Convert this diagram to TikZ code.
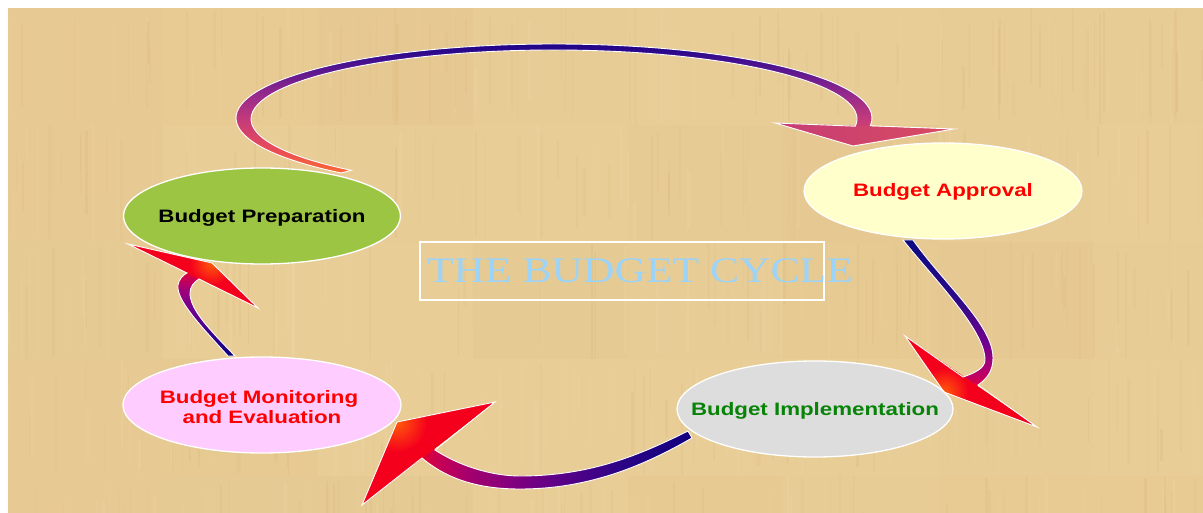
\documentclass[tikz,border=0pt]{standalone}
\usepackage{fontspec}
\usepackage{graphicx}
\usetikzlibrary{shapes.geometric}
\newfontfamily\lblfont{Liberation Sans}
\newfontfamily\titlefont{Liberation Serif}

% paper and texture
\definecolor{paper}{HTML}{E8CC95}
\definecolor{streakdark}{HTML}{CDA86A}
\definecolor{streaklight}{HTML}{F6E3B8}
% bubbles and texts
\definecolor{prepgreen}{HTML}{9DC544}
\definecolor{appryellow}{HTML}{FFFFCC}
\definecolor{implgrey}{HTML}{DDDDDD}
\definecolor{monpink}{HTML}{FFCCFF}
\definecolor{labelred}{HTML}{FF0000}
\definecolor{labelgreen}{HTML}{078307}
\definecolor{titleblue}{HTML}{9CD3F8}
% arrow heads
\definecolor{headred}{HTML}{F5001C}
\definecolor{tiporange}{HTML}{FF5A0A}
\definecolor{headAl}{HTML}{C63D74}
\definecolor{headAr}{HTML}{D84B62}
% shaft colour stops
\definecolor{sA0}{HTML}{FA6A32}\definecolor{sA1}{HTML}{E84A58}\definecolor{sA2}{HTML}{C83C78}
\definecolor{sA3}{HTML}{982A8C}\definecolor{sA4}{HTML}{561690}\definecolor{sA5}{HTML}{24068A}
\definecolor{sA6}{HTML}{100080}
\definecolor{sB0}{HTML}{E0003C}\definecolor{sB1}{HTML}{B8006A}\definecolor{sB2}{HTML}{74008E}
\definecolor{sB3}{HTML}{2E0A88}\definecolor{sB4}{HTML}{0C0A80}
\definecolor{sC0}{HTML}{E4002E}\definecolor{sC1}{HTML}{C40056}\definecolor{sC2}{HTML}{A2006E}
\definecolor{sC3}{HTML}{84007E}\definecolor{sC4}{HTML}{5A0088}\definecolor{sC5}{HTML}{2C0486}
\definecolor{sC6}{HTML}{10007E}
\definecolor{sD0}{HTML}{0C007E}\definecolor{sD1}{HTML}{34008A}\definecolor{sD2}{HTML}{6E0090}
\definecolor{sD3}{HTML}{A0007A}\definecolor{sD4}{HTML}{CC0050}\definecolor{sD5}{HTML}{E8002E}

\pgfdeclareverticalshading{shaftA}{100bp}{color(0bp)=(sA0); color(25bp)=(sA0); color(33.9bp)=(sA1); color(43.6bp)=(sA2); color(53.3bp)=(sA3); color(63bp)=(sA4); color(70.7bp)=(sA5); color(75bp)=(sA6); color(100bp)=(sA6)}
\pgfdeclareverticalshading{shaftB}{100bp}{color(0bp)=(sB0); color(25bp)=(sB0); color(30.4bp)=(sB1); color(39.5bp)=(sB2); color(54.7bp)=(sB3); color(75bp)=(sB4); color(100bp)=(sB4)}
\pgfdeclarehorizontalshading{shaftC}{100bp}{color(0bp)=(sC0); color(25bp)=(sC0); color(28.8bp)=(sC1); color(34.3bp)=(sC2); color(41.6bp)=(sC3); color(50.8bp)=(sC4); color(61.8bp)=(sC5); color(75bp)=(sC6); color(100bp)=(sC6)}
\pgfdeclareverticalshading{shaftD}{100bp}{color(0bp)=(sD0); color(25bp)=(sD0); color(37.1bp)=(sD1); color(51.6bp)=(sD2); color(63.1bp)=(sD3); color(70bp)=(sD4); color(75bp)=(sD5); color(100bp)=(sD5)}

\begin{document}
\begin{tikzpicture}[x=1pt,y=-1pt,
  bubble/.style={ellipse, draw=white, line width=1.3pt, minimum width=277pt,
    minimum height=96pt, inner sep=0pt},
  lbl/.style={font=\lblfont\bfseries\fontsize{18}{20}\selectfont, anchor=base, inner sep=0pt},
  arrowrim/.style={draw=white, line width=0.9pt, line join=miter},
  titlebox/.style={draw=white, line width=1.2pt, minimum width=404pt, minimum height=58pt, inner sep=0pt},
  titletext/.style={text=titleblue, font=\titlefont\fontsize{36}{40}\selectfont, anchor=base, inner sep=0pt}]

\useasboundingbox (0,0) rectangle (1203,513);
\fill[white] (0,0) rectangle (1203,513);
\fill[paper] (8,8) rectangle (1203,513);

% papyrus texture: faintly tinted tiles and fine vertical fibres
\begin{scope}
  \clip (8,8) rectangle (1203,513);
  \pgfmathsetseed{1207}
  \foreach \trow in {0,...,4}{
    \foreach \tcol in {0,...,7}{
      \pgfmathsetmacro\to{0.02+0.05*rnd}
      \pgfmathtruncatemacro\tk{rnd>0.5 ? 1 : 0}
      \ifnum\tk=1 \def\tc{streakdark}\else\def\tc{streaklight}\fi
      \fill[\tc, opacity=\to] ({8+155*\tcol},{8+117*\trow}) rectangle ++(155,117);
    }
    \foreach \k in {1,...,110}{
      \pgfmathsetmacro\sx{8+1195*rnd}
      \pgfmathsetmacro\sw{0.8+2.2*rnd}
      \pgfmathsetmacro\sh{30+87*rnd}
      \pgfmathsetmacro\sy{8+117*\trow+(117-\sh)*rnd}
      \pgfmathsetmacro\so{0.05+0.10*rnd}
      \pgfmathtruncatemacro\sk{rnd>0.45 ? 1 : 0}
      \ifnum\sk=1 \def\sc{streakdark}\else\def\sc{streaklight}\fi
      \fill[\sc, opacity=\so] (\sx,\sy) rectangle ++(\sw,\sh);
    }
  }
\end{scope}

% ---- arrow: preparation -> approval (over the top)
\coordinate (a1bl) at (775,123);
\coordinate (a1br) at (954,129);
\coordinate (a1tip) at (853,146);
\shade[shading=shaftA] ([shift={(554,118)}]132:318 and 74)
  arc[start angle=132, end angle=368, x radius=318, y radius=74]
  -- ([shift={(554,119)}]368:303 and 69)
  arc[start angle=368, end angle=132, x radius=303, y radius=69] -- cycle;
\shade[left color=headAl, right color=headAr] (a1bl) -- (a1br) -- (a1tip) -- cycle;
\draw[arrowrim] ([shift={(554,118)}]132:318 and 74)
  arc[start angle=132, end angle=366, x radius=318, y radius=74]
  -- (a1br) -- (a1tip) -- (a1bl)
  -- ([shift={(554,119)}]366:303 and 69)
  arc[start angle=366, end angle=132, x radius=303, y radius=69] -- cycle;

% ---- arrow: approval -> implementation
\coordinate (a2tl) at (903,240);
\coordinate (a2tr) at (913,240);
\coordinate (a2ja) at (963,377);
\coordinate (a2jb) at (978,385);
\coordinate (a2b1) at (905,336);
\coordinate (a2tip) at (944,392);
\coordinate (a2b2) at (1037,427);
\shade[shading=shaftB] (a2tl) .. controls (935,280) and (985,330) .. (985,360)
  .. controls (985,368) and (975,373) .. (a2ja) -- (960.7,380.3) -- (975.7,388.3) -- (a2jb)
  .. controls (988,378) and (993,370) .. (993,358)
  .. controls (993,325) and (945,285) .. (a2tr) -- cycle;
\begin{scope}
  \clip (a2b1) -- (a2b2) -- (a2tip) -- cycle;
  \fill[headred] (a2b1) -- (a2b2) -- (a2tip) -- cycle;
  \shade[inner color=tiporange, outer color=headred] (a2tip) circle (24pt);
\end{scope}
\draw[arrowrim] (a2tl) .. controls (935,280) and (985,330) .. (985,360)
  .. controls (985,368) and (975,373) .. (a2ja) -- (a2b1) -- (a2tip) -- (a2b2) -- (a2jb)
  .. controls (988,378) and (993,370) .. (993,358)
  .. controls (993,325) and (945,285) .. (a2tr) -- cycle;

% ---- arrow: implementation -> monitoring
\coordinate (a3tu) at (688,431);
\coordinate (a3tl) at (692,438);
\coordinate (a3p) at (435,450);
\coordinate (a3q) at (422,458);
\coordinate (a3b1) at (495,402);
\coordinate (a3tip) at (397,422);
\coordinate (a3b2) at (362,505);
\shade[shading=shaftC] (a3tu) .. controls (640,455) and (590,476) .. (520,476)
  .. controls (490,476) and (458,465) .. (a3p) -- (432.6,446.8) -- (419.6,454.8) -- (a3q)
  .. controls (448,480) and (480,489) .. (520,489)
  .. controls (590,489) and (645,465) .. (a3tl) -- cycle;
\begin{scope}
  \clip (a3b1) -- (a3tip) -- (a3b2) -- cycle;
  \fill[headred] (a3b1) -- (a3tip) -- (a3b2) -- cycle;
  \shade[inner color=tiporange, outer color=headred] (a3tip) circle (30pt);
\end{scope}
\draw[arrowrim] (a3tu) .. controls (640,455) and (590,476) .. (520,476)
  .. controls (490,476) and (458,465) .. (a3p) -- (a3b1) -- (a3tip) -- (a3b2) -- (a3q)
  .. controls (448,480) and (480,489) .. (520,489)
  .. controls (590,489) and (645,465) .. (a3tl) -- cycle;

% ---- arrow: monitoring -> preparation
\coordinate (a4tl) at (228,356);
\coordinate (a4tr) at (235,356);
\coordinate (a4j1) at (187,273);
\coordinate (a4j2) at (199,279);
\coordinate (a4b1) at (128,244);
\coordinate (a4tip) at (212,263);
\coordinate (a4b2) at (258,308);
\shade[shading=shaftD] (a4tl) .. controls (200,325) and (176,300) .. (178,285)
  .. controls (179,279) and (183,275) .. (a4j1) -- (188.8,269.4) -- (200.8,275.4) -- (a4j2)
  .. controls (194,282) and (190,287) .. (190,293)
  .. controls (190,310) and (210,330) .. (a4tr) -- cycle;
\begin{scope}
  \clip (a4b1) -- (a4tip) -- (a4b2) -- cycle;
  \fill[headred] (a4b1) -- (a4tip) -- (a4b2) -- cycle;
  \shade[inner color=tiporange, outer color=headred] (a4tip) circle (22pt);
\end{scope}
\draw[arrowrim] (a4tl) .. controls (200,325) and (176,300) .. (178,285)
  .. controls (179,279) and (183,275) .. (a4j1) -- (a4b1) -- (a4tip) -- (a4b2) -- (a4j2)
  .. controls (194,282) and (190,287) .. (190,293)
  .. controls (190,310) and (210,330) .. (a4tr) -- cycle;

% ---- stages
\node[bubble, fill=prepgreen] (prep) at (262,216) {};
\node[bubble, fill=appryellow, minimum width=278pt] (appr) at (943,191) {};
\node[bubble, fill=implgrey, minimum width=276pt] (impl) at (815,409) {};
\node[bubble, fill=monpink, minimum width=278pt] (mon) at (262,405) {};

\node[lbl, text=black] (preptxt) at (262,223) {\scalebox{1.24}[1]{Budget Preparation}};
\node[lbl, text=labelred] (apprtxt) at (943,197) {\scalebox{1.24}[1]{Budget Approval}};
\node[lbl, text=labelgreen] (impltxt) at (815,415) {\scalebox{1.24}[1]{Budget Implementation}};
\node[lbl, text=labelred] (montxta) at (259,403) {\scalebox{1.24}[1]{Budget Monitoring}};
\node[lbl, text=labelred] (montxtb) at (262,423) {\scalebox{1.24}[1]{and Evaluation}};

% ---- title
\node[titlebox] (tbox) at (622,271) {};
\node[titletext] (title) at (640,283) {\scalebox{1.21}[1]{THE BUDGET CYCLE}};

\end{tikzpicture}
\end{document}
